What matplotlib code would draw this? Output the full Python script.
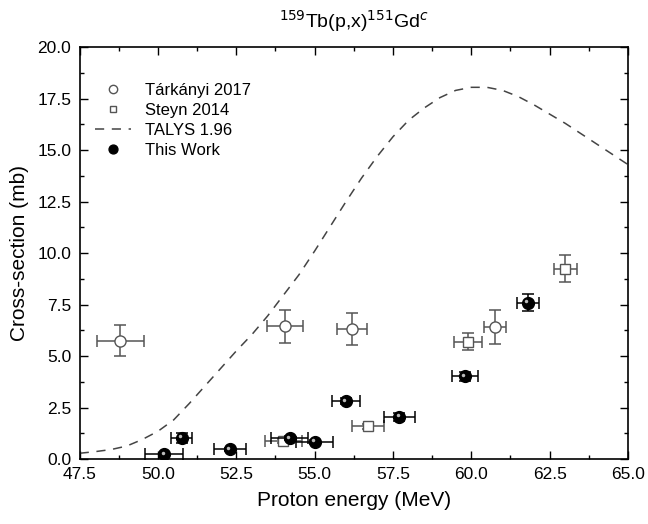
import numpy as np
import matplotlib.pyplot as plt
from matplotlib.ticker import MultipleLocator, FormatStrFormatter
import matplotlib.transforms as mtransforms

plt.rcParams['font.family'] = ['Liberation Sans', 'DejaVu Sans']

# Tárkányi 2017
tar_e = [48.8, 54.05, 56.2, 60.75]
tar_ex = [0.75, 0.57, 0.48, 0.35]
tar_s = [5.75, 6.45, 6.33, 6.4]
tar_sy = [0.75, 0.8, 0.78, 0.82]

# Steyn 2014
ste_e = [54.0, 56.7, 59.9, 63.0]
ste_ex = [0.6, 0.5, 0.45, 0.37]
ste_s = [0.88, 1.58, 5.7, 9.25]
ste_sy = [0.1, 0.12, 0.4, 0.65]

# TALYS 1.96
talys_e = [47.5, 48.0, 48.5, 49.0, 49.5, 50.0, 50.5, 51.0, 51.5, 52.0, 52.5,
           53.0, 53.5, 54.0, 54.5, 55.0, 55.5, 56.0, 56.5, 57.0, 57.5, 58.0,
           58.5, 59.0, 59.5, 60.0, 60.5, 61.0, 61.5, 62.0, 62.5, 63.0, 63.5,
           64.0, 64.5, 65.0]
talys_s = [0.28, 0.36, 0.46, 0.63, 0.95, 1.35, 1.9, 2.7, 3.55, 4.4, 5.25,
           6.05, 6.95, 7.95, 8.95, 10.1, 11.3, 12.5, 13.65, 14.7, 15.65, 16.45,
           17.05, 17.55, 17.9, 18.05, 18.05, 17.9, 17.6, 17.2, 16.75, 16.3, 15.8,
           15.3, 14.8, 14.3]

# This Work
tw_e = [50.2, 50.75, 52.3, 54.2, 55.0, 56.0, 57.7, 59.8, 61.8]
tw_ex = [0.6, 0.35, 0.5, 0.6, 0.6, 0.45, 0.5, 0.42, 0.35]
tw_s = [0.22, 1.02, 0.47, 1.0, 0.83, 2.8, 2.05, 4.02, 7.6]
tw_sy = [0.08, 0.25, 0.08, 0.1, 0.08, 0.15, 0.2, 0.22, 0.4]

fig = plt.figure(figsize=(6.48, 5.24), dpi=100)
ax = fig.add_axes([0.123, 0.124, 0.846, 0.786])

gray = '#555555'
ax.plot(talys_e, talys_s, ls=(0, (6, 5)), color='#444444', lw=1.1, label='TALYS 1.96', zorder=2)

ax.errorbar(tar_e, tar_s, xerr=tar_ex, yerr=tar_sy, fmt='none', ecolor=gray,
            elinewidth=1.1, capsize=4, capthick=1.1, zorder=3)
ax.plot(tar_e, tar_s, 'o', ms=8, mfc='white', mec=gray, mew=1.0, ls='none',
        label='Tárkányi 2017', zorder=4)

ax.errorbar(ste_e, ste_s, xerr=ste_ex, yerr=ste_sy, fmt='none', ecolor=gray,
            elinewidth=1.1, capsize=4, capthick=1.1, zorder=3)
ax.plot(ste_e, ste_s, 's', ms=6.5, mfc='white', mec=gray, mew=1.0, ls='none',
        label='Steyn 2014', zorder=4)

ax.errorbar(tw_e, tw_s, xerr=tw_ex, yerr=tw_sy, fmt='none', ecolor='black',
            elinewidth=1.1, capsize=4, capthick=1.1, zorder=5)
ax.plot(tw_e, tw_s, 'o', ms=8.5, mfc='black', mec='black', ls='none',
        label='This Work', zorder=6)
# highlight on the spheres
shift = mtransforms.ScaledTranslation(-1.2 / 72, 1.2 / 72, fig.dpi_scale_trans)
ax.plot(tw_e, tw_s, 'o', ms=2.5, mfc='#bbbbbb', mec='none', ls='none',
        transform=ax.transData + shift, zorder=7)

ax.set_xlim(47.5, 65.0)
ax.set_ylim(0, 20)
ax.xaxis.set_major_locator(MultipleLocator(2.5))
ax.xaxis.set_minor_locator(MultipleLocator(1.25))
ax.yaxis.set_major_locator(MultipleLocator(2.5))
ax.yaxis.set_minor_locator(MultipleLocator(1.25))
ax.xaxis.set_major_formatter(FormatStrFormatter('%.1f'))
ax.yaxis.set_major_formatter(FormatStrFormatter('%.1f'))
ax.tick_params(which='both', direction='in', top=True, right=True, labelsize=12.5)
ax.tick_params(which='major', length=6, width=1, pad=6)
ax.tick_params(which='minor', length=3, width=1)
for s in ax.spines.values():
    s.set_linewidth(1.2)

ax.set_xlabel('Proton energy (MeV)', fontsize=15, labelpad=6)
ax.set_ylabel('Cross-section (mb)', fontsize=15, labelpad=6)
ax.set_title(r'$^{159}$Tb(p,x)$^{151}$Gd$^{\mathit{c}}$', fontsize=14, pad=14)

h, l = ax.get_legend_handles_labels()
order = [l.index('Tárkányi 2017'), l.index('Steyn 2014'), l.index('TALYS 1.96'), l.index('This Work')]
ax.legend([h[i] for i in order], [l[i] for i in order], loc='upper left',
          bbox_to_anchor=(0.0, 0.95), frameon=False, fontsize=12,
          handlelength=2.2, labelspacing=0.3, markerscale=0.75)

fig.savefig('out.png', dpi=100)
